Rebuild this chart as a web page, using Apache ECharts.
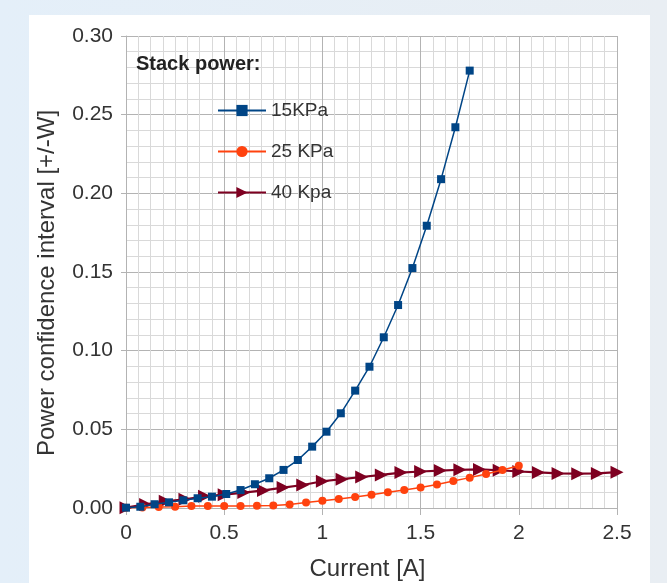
<!DOCTYPE html>
<html>
<head>
<meta charset="utf-8">
<script src="https://cdn.jsdelivr.net/npm/echarts@6/dist/echarts.min.js"></script>
<style>
  html, body { margin: 0; padding: 0; }
  #chart { width: 667px; height: 583px; }
</style>
</head>
<body>
<div id="chart"></div>
<script>
// current [A] for each run
const x15 = [0, 0.0729, 0.1458, 0.2188, 0.2917, 0.3646, 0.4375, 0.5104, 0.5833, 0.6563, 0.7292, 0.8021, 0.875,
  0.9479, 1.0208, 1.0938, 1.1667, 1.2396, 1.3125, 1.3854, 1.4583, 1.5313, 1.6042, 1.6771, 1.75];
const x25 = [0, 0.0833, 0.1667, 0.25, 0.3333, 0.4167, 0.5, 0.5833, 0.6667, 0.75, 0.8333, 0.9167, 1,
  1.0833, 1.1667, 1.25, 1.3333, 1.4167, 1.5, 1.5833, 1.6667, 1.75, 1.8333, 1.9167, 2];
const x40 = [0, 0.1, 0.2, 0.3, 0.4, 0.5, 0.6, 0.7, 0.8, 0.9, 1, 1.1, 1.2, 1.3, 1.4, 1.5, 1.6, 1.7, 1.8,
  1.9, 2, 2.1, 2.2, 2.3, 2.4, 2.5];

// power confidence interval [+/-W]
const y15 = [0.0002, 0.0008, 0.0024, 0.0036, 0.0049, 0.0062, 0.0072, 0.0089, 0.0114, 0.0151, 0.0189, 0.0242, 0.0305,
  0.039, 0.0485, 0.0602, 0.0746, 0.0898, 0.1085, 0.129, 0.1525, 0.1794, 0.209, 0.242, 0.278];
const y25 = [0.0002, 0.0003, 0.0006, 0.0008, 0.0012, 0.0013, 0.0013, 0.0013, 0.0014, 0.0016, 0.0023, 0.0035, 0.0046,
  0.0057, 0.007, 0.0084, 0.01, 0.0114, 0.0131, 0.015, 0.0172, 0.0193, 0.0216, 0.0242, 0.0269];
const y40 = [0.0002, 0.0023, 0.0043, 0.0055, 0.0074, 0.0085, 0.0098, 0.0112, 0.013, 0.0146, 0.017, 0.0183, 0.0197,
  0.021, 0.0225, 0.0232, 0.0238, 0.0243, 0.0245, 0.024, 0.0232, 0.0226, 0.022, 0.0218, 0.022, 0.0228];

const seriesNames = ['15KPa', '25 KPa', '40 Kpa'];
const colors = ['#004586', '#ff420e', '#7e0021'];

const fontFamily = 'Liberation Sans, Arial, sans-serif';

const pairs = (xs, ys) => xs.map((x, i) => [x, ys[i]]);

const chart = echarts.init(document.getElementById('chart'));

const option = {
  backgroundColor: new echarts.graphic.LinearGradient(0, 0, 1, 0, [
    { offset: 0, color: '#e4eff9' },
    { offset: 1, color: '#e9eef3' }
  ]),
  animation: false,
  textStyle: { fontFamily: fontFamily },
  graphic: [{
    type: 'rect',
    z: -10,
    silent: true,
    shape: { x: 29, y: 15, width: 621, height: 570 },
    style: { fill: '#ffffff' }
  }],
  title: {
    text: 'Stack power:',
    left: 131,
    top: 49,
    textStyle: { fontSize: 20, fontWeight: 'bold', color: '#222', fontFamily: fontFamily }
  },
  legend: {
    data: seriesNames,
    orient: 'vertical',
    left: 217,
    top: 101,
    itemWidth: 48,
    itemHeight: 14,
    itemGap: 22,
    padding: 0,
    textStyle: { fontSize: 19, color: '#333', fontFamily: fontFamily, lineHeight: 19 }
  },
  grid: {
    left: 126,
    right: 50,
    top: 36,
    bottom: 75,
    containLabel: false,
    outerBoundsMode: 'none'
  },
  xAxis: {
    type: 'value',
    min: 0,
    max: 2.5,
    interval: 0.5,
    name: 'Current [A]',
    nameLocation: 'middle',
    nameGap: 49,
    nameTextStyle: { fontSize: 24, color: '#333', fontFamily: fontFamily, padding: [0, 8, 0, 0] },
    axisLine: { show: true, lineStyle: { color: '#b3b3b3', width: 1 } },
    axisTick: { show: true, inside: false, length: 7, lineStyle: { color: '#b3b3b3' } },
    axisLabel: {
      fontSize: 21, color: '#333', margin: 15,
      formatter: v => String(v)
    },
    splitLine: { show: true, lineStyle: { color: '#b3b3b3', width: 1 } },
    minorTick: { show: false, splitNumber: 8 },
    minorSplitLine: { show: true, lineStyle: { color: '#d9d9d9', width: 1 } }
  },
  yAxis: {
    type: 'value',
    min: 0,
    max: 0.3,
    interval: 0.05,
    name: 'Power confidence interval [+/-W]',
    nameLocation: 'middle',
    nameRotate: 90,
    nameGap: 67,
    nameTextStyle: { fontSize: 24, color: '#333', fontFamily: fontFamily, padding: [0, 22, 0, 0] },
    axisLine: { show: true, lineStyle: { color: '#b3b3b3', width: 1 } },
    axisTick: { show: true, inside: false, length: 5, lineStyle: { color: '#b3b3b3' } },
    axisLabel: {
      fontSize: 21, color: '#333', margin: 13,
      formatter: v => v.toFixed(2)
    },
    splitLine: { show: true, lineStyle: { color: '#b3b3b3', width: 1 } },
    minorTick: { show: false, splitNumber: 5 },
    minorSplitLine: { show: true, lineStyle: { color: '#d9d9d9', width: 1 } }
  },
  series: [
    {
      name: seriesNames[0],
      type: 'line',
      data: pairs(x15, y15),
      color: colors[0],
      symbol: 'rect',
      symbolSize: 8,
      lineStyle: { width: 1.5 },
      z: 4
    },
    {
      name: seriesNames[1],
      type: 'line',
      data: pairs(x25, y25),
      color: colors[1],
      symbol: 'circle',
      symbolSize: 8,
      lineStyle: { width: 1.5 },
      z: 3
    },
    {
      name: seriesNames[2],
      type: 'line',
      data: pairs(x40, y40),
      color: colors[2],
      symbol: 'triangle',
      symbolRotate: -90,
      symbolSize: 13,
      lineStyle: { width: 2.2 },
      z: 2
    }
  ]
};

chart.setOption(option);
</script>
</body>
</html>
